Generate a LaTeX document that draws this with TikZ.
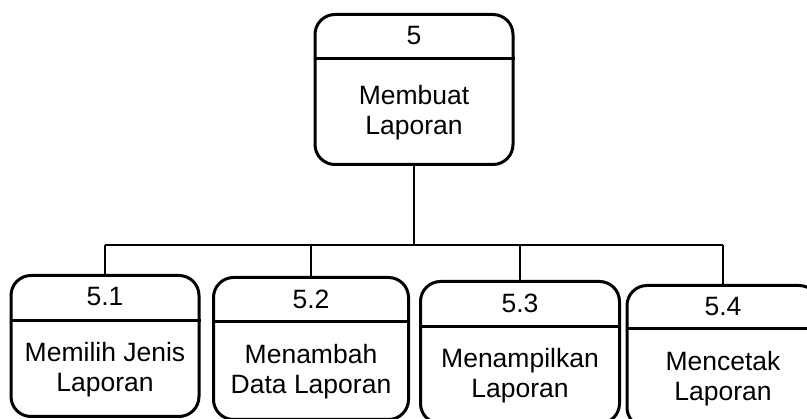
\documentclass[tikz,border=0pt]{standalone}
\usepackage{fontspec}
\setmainfont{Liberation Sans}
\usetikzlibrary{positioning,calc}
\tikzset{
  proses/.style={draw, line width=3pt, rounded corners=20pt, minimum height=142pt, inner sep=0pt, anchor=north},
  nomor/.style={font=\fontsize{26.5}{30}\selectfont},
  isi/.style={font=\fontsize{26.5}{30}\selectfont, align=center},
  sekat/.style={line width=3pt},
  garis/.style={line width=2pt},
}
\begin{document}
\begin{tikzpicture}[x=1pt,y=-1pt]
\useasboundingbox (0,0) rectangle (807,419);
% proses induk
\node[proses, minimum width=198pt, minimum height=150pt] (p5) at (414,13) {};
\draw[sekat] ([yshift=-46pt]p5.north west) -- ([yshift=-46pt]p5.north east);
\node[nomor] (n5) at ([yshift=-23pt]p5.north) {5};
\node[isi] (t5) at ($(p5.south)!0.5!([yshift=-46pt]p5.north)$) {Membuat\\Laporan};
% sub proses
\node[proses, minimum width=188pt, minimum height=141pt] (p51) at (105,274) {};
\node[proses, minimum width=195pt] (p52) at (311,276) {};
\node[proses, minimum width=199pt] (p53) at (520,280) {};
\node[proses, minimum width=192pt] (p54) at (723,284) {};
\draw[sekat] ([yshift=-47pt]p51.north west) -- ([yshift=-47pt]p51.north east);
\draw[sekat] ([yshift=-46pt]p52.north west) -- ([yshift=-46pt]p52.north east);
\draw[sekat] ([yshift=-47pt]p53.north west) -- ([yshift=-47pt]p53.north east);
\draw[sekat] ([yshift=-45pt]p54.north west) -- ([yshift=-45pt]p54.north east);
\node[nomor] (n51) at ([yshift=-23pt]p51.north) {5.1};
\node[nomor] (n52) at ([yshift=-23pt]p52.north) {5.2};
\node[nomor] (n53) at ([yshift=-23pt]p53.north) {5.3};
\node[nomor] (n54) at ([yshift=-23pt]p54.north) {5.4};
\node[isi] (t51) at ($(p51.south)!0.5!([yshift=-47pt]p51.north)$) {Memilih Jenis\\Laporan};
\node[isi] (t52) at ($(p52.south)!0.5!([yshift=-46pt]p52.north)$) {Menambah\\Data Laporan};
\node[isi] (t53) at ($(p53.south)!0.5!([yshift=-47pt]p53.north)$) {Menampilkan\\Laporan};
\node[isi] (t54) at ($(p54.south)!0.5!([yshift=-45pt]p54.north)$) {Mencetak\\Laporan};
% garis hubung
\coordinate (cabang) at (414,245);
\draw[garis] (p5.south) -- (cabang);
\draw[garis] (p51.north |- cabang) -- (p54.north |- cabang);
\draw[garis] (p51.north |- cabang) -- (p51.north);
\draw[garis] (p52.north |- cabang) -- (p52.north);
\draw[garis] (p53.north |- cabang) -- (p53.north);
\draw[garis] (p54.north |- cabang) -- (p54.north);
\end{tikzpicture}
\end{document}
